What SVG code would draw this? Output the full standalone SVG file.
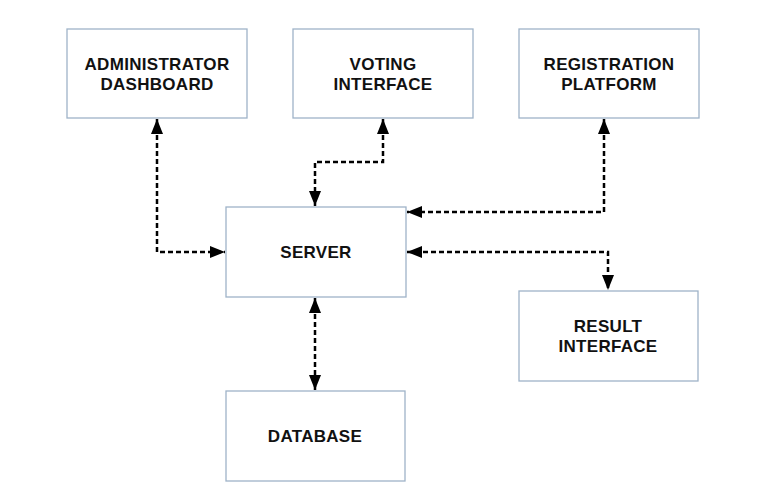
<svg xmlns="http://www.w3.org/2000/svg" width="774" height="502" viewBox="0 0 774 502">
<style>
.box{fill:#ffffff;stroke:#9fb3c8;stroke-width:1.3}
.lbl{font-family:"Liberation Sans",Arial,sans-serif;font-weight:bold;font-size:17px;letter-spacing:0.3px;fill:#111;text-anchor:middle}
.con{fill:none;stroke:#000;stroke-width:2.5;stroke-dasharray:5,3;marker-start:url(#ah);marker-end:url(#ah)}
</style>
<defs>
<marker id="ah" viewBox="0 0 15 12" refX="15" refY="6" markerWidth="15" markerHeight="12" markerUnits="userSpaceOnUse" orient="auto-start-reverse">
<path d="M0,0 L15,6 L0,12 Z" fill="#000"/>
</marker>
</defs>
<rect width="774" height="502" fill="#fff"/>
<g id="connectors">
<path class="con" d="M157,119 V252 H225"/>
<path class="con" d="M383,119 V162 H315 V206"/>
<path class="con" d="M604,119 V212 H407"/>
<path class="con" d="M407,252 H608 V290"/>
<path class="con" d="M315,298 V390"/>
</g>
<g id="admin">
<rect class="box" x="67" y="29" width="180" height="89"/>
<text class="lbl" x="157" y="70">ADMINISTRATOR</text>
<text class="lbl" x="157" y="90">DASHBOARD</text>
</g>
<g id="voting">
<rect class="box" x="293" y="29" width="180" height="89"/>
<text class="lbl" x="383" y="70">VOTING</text>
<text class="lbl" x="383" y="90">INTERFACE</text>
</g>
<g id="registration">
<rect class="box" x="519" y="29" width="180" height="89"/>
<text class="lbl" x="609" y="70">REGISTRATION</text>
<text class="lbl" x="609" y="90">PLATFORM</text>
</g>
<g id="server">
<rect class="box" x="226" y="207" width="180" height="90"/>
<text class="lbl" x="316" y="258">SERVER</text>
</g>
<g id="result">
<rect class="box" x="519" y="291" width="179" height="90"/>
<text class="lbl" x="608" y="332">RESULT</text>
<text class="lbl" x="608" y="352">INTERFACE</text>
</g>
<g id="database">
<rect class="box" x="226" y="391" width="179" height="90"/>
<text class="lbl" x="315" y="442">DATABASE</text>
</g>
</svg>
